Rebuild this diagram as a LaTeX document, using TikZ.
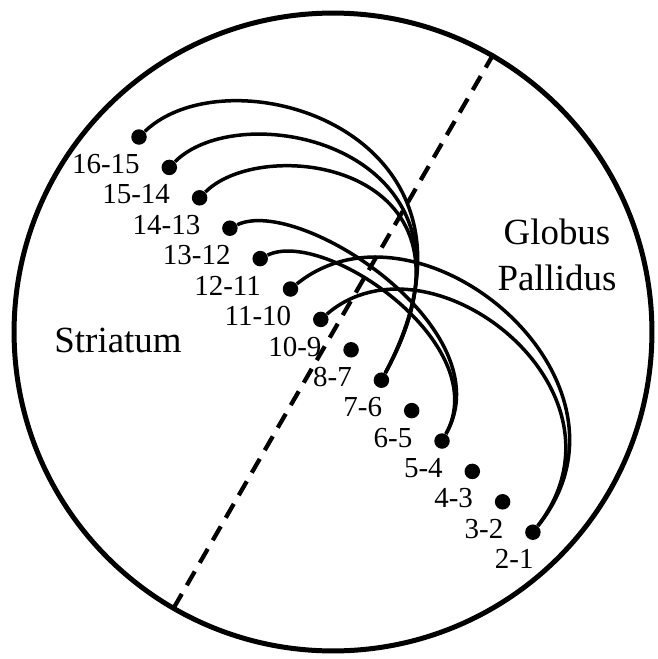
\documentclass[tikz,border=0pt]{standalone}
\usepackage{fontspec}
\setmainfont{Liberation Serif}
\usepackage{tikz}
\usetikzlibrary{positioning}

\begin{document}
\begin{tikzpicture}[
  x=0.02cm, y=-0.02cm,
  slice/.style={circle, draw, line width=0.1cm, minimum size=12.76cm, inner sep=0pt},
  midline/.style={line width=0.085cm, dash pattern=on 0.32cm off 0.2cm},
  site/.style={circle, fill=black, minimum size=0.31cm, inner sep=0pt},
  sitelabel/.style={anchor=north east, inner sep=0pt, font=\fontsize{16.5}{19}\selectfont},
  region/.style={inner sep=0pt, align=center, font=\fontsize{21}{26}\selectfont},
  link/.style={line width=0.07cm},
]
  \useasboundingbox (0,0) rectangle (657,659);

  \node[slice] (brain) at (333,332) {};
  \draw[midline] (brain.60) -- (brain.240);

  \node[region, anchor=base] (str) at (118,352) {Striatum};
  \node[region, anchor=north] (gp) at (557,219) {Globus\\Pallidus};

  % recording sites along the track
  \foreach \i/\t in {0/16-15, 1/15-14, 2/14-13, 3/13-12, 4/12-11, 5/11-10, 6/10-9,
                     7/8-7, 8/7-6, 9/6-5, 10/5-4, 11/4-3, 12/3-2, 13/2-1} {
    \node[site] (d\i) at ({139+30.3*\i},{137+30.4*\i}) {};
    \node[sitelabel] (l\i) at ([shift={(1,17)}]d\i) {\t};
  }

  % connections
  \draw[link] (d0) .. controls +(92,-88) and +(131,-247) .. (d8);
  \draw[link] (d1) .. controls +(75,-75) and +(125,-230) .. (d8);
  \draw[link] (d2) .. controls +(65,-65) and +(118,-215) .. (d8);
  \draw[link] (d3) .. controls +(70,-33) and +(63,-111) .. (d10);
  \draw[link] (d4) .. controls +(65,-31) and +(53,-96) .. (d10);
  \draw[link] (d5) .. controls +(129,-104) and +(122,-152) .. (d13);
  \draw[link] (d6) .. controls +(109,-94) and +(109,-142) .. (d13);
\end{tikzpicture}
\end{document}
